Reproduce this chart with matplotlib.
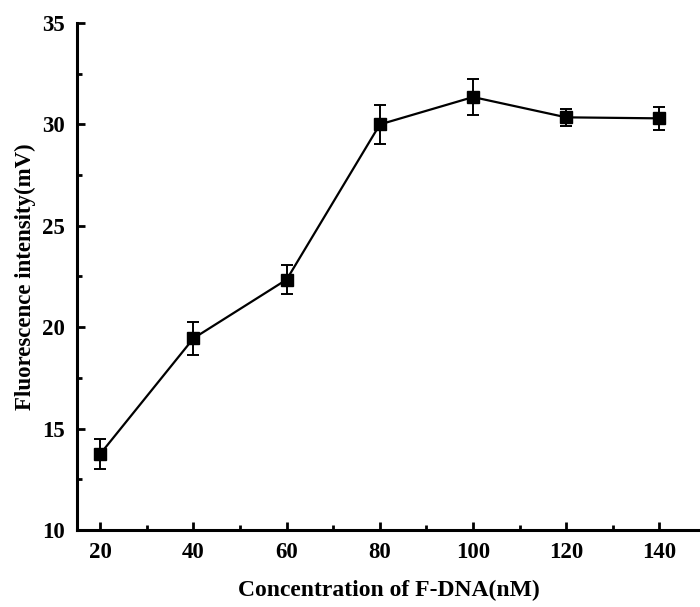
import matplotlib.pyplot as plt
from matplotlib.ticker import MultipleLocator

# data
concentration = [20, 40, 60, 80, 100, 120, 140]
intensity = [13.75, 19.45, 22.35, 30.0, 31.35, 30.35, 30.3]
errors = [0.75, 0.8, 0.72, 0.95, 0.9, 0.42, 0.55]

plt.rcParams['font.family'] = ['Liberation Serif', 'DejaVu Serif']
plt.rcParams['font.weight'] = 'bold'

fig = plt.figure(figsize=(7.0, 6.07), dpi=100)
ax = fig.add_axes([0.11, 0.127, 0.89, 0.835])

ax.errorbar(concentration, intensity, yerr=errors, color='black', linewidth=1.6,
            marker='s', markersize=8, elinewidth=1.4, capsize=4, capthick=1.4)

ax.set_xlim(15, 148.7)
ax.set_ylim(10, 35)
ax.xaxis.set_major_locator(MultipleLocator(20))
ax.xaxis.set_minor_locator(MultipleLocator(10))
ax.yaxis.set_major_locator(MultipleLocator(5))
ax.yaxis.set_minor_locator(MultipleLocator(2.5))

for side in ['top', 'right']:
    ax.spines[side].set_visible(False)
for side in ['left', 'bottom']:
    ax.spines[side].set_linewidth(2.2)

ax.tick_params(which='major', direction='in', length=6, width=2, labelsize=16.5, pad=9)
ax.tick_params(which='minor', direction='in', length=3.5, width=2)
for lab in ax.get_xticklabels() + ax.get_yticklabels():
    lab.set_fontweight('bold')

ax.set_xlabel('Concentration of F-DNA(nM)', fontsize=17, fontweight='bold', labelpad=12)
ax.set_ylabel('Fluorescence intensity(mV)', fontsize=16.5, fontweight='bold', labelpad=4)

fig.savefig('out.png', dpi=100)
